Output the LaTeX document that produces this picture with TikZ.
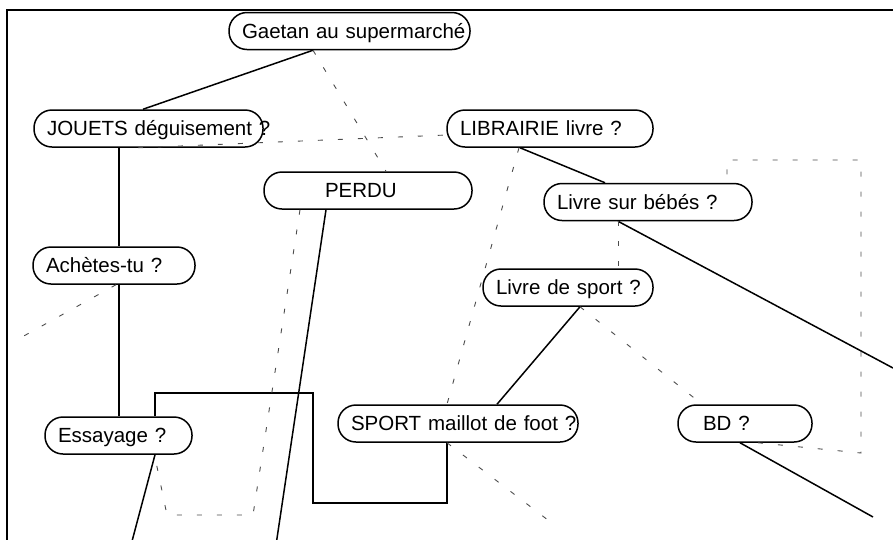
\documentclass[tikz,border=0pt]{standalone}
\usepackage{fontspec}
\setmainfont{Liberation Sans}
\usetikzlibrary{calc}

\tikzset{
  bulle/.style={draw, line width=1.5pt, rounded corners=18pt, minimum height=37pt,
    inner xsep=13pt, inner ysep=0pt, align=left, text width=#1,
    text height=14.7pt, text depth=0pt, font=\fontsize{20.5}{24}\selectfont},
  lien/.style={line width=1.5pt},
  pointille/.style={black!70, line width=0.9pt, dash pattern=on 5pt off 15pt},
}

\begin{document}
\begin{tikzpicture}[x=1pt,y=-1pt]
\useasboundingbox (0,0) rectangle (893,539);
\clip (0,0) rectangle (893,539);
\draw [line width=2pt] (7,545) -- (7,10) -- (900,10);

% les bulles
\node [bulle=215pt] (gaetan) at (349.5,31) {\mbox{Gaetan au supermarché}};
\node [bulle=203pt] (jouets) at (148.5,128.5) {\mbox{JOUETS déguisement ?}};
\node [bulle=180pt] (librairie) at (550,128.5) {LIBRAIRIE livre ?};
\node [bulle=182pt] (perdu) at (368,190.5) {\hspace*{48pt}PERDU};
\node [bulle=182pt] (bebes) at (648,202) {Livre sur bébés ?};
\node [bulle=136pt] (achetes) at (114,265.5) {Achètes-tu ?};
\node [bulle=144pt] (sport) at (568,287.5) {\mbox{Livre de sport ?}};
\node [bulle=214pt] (maillot) at (458,423.5) {\mbox{SPORT maillot de foot ?}};
\node [bulle=108pt] (bd) at (745,423.5) {\hspace*{12pt}BD ?};
\node [bulle=121pt] (essayage) at (118.5,435.5) {Essayage ?};

% bouts libres
\coordinate (finessai) at (131,545);
\coordinate (finperdu) at (276,545);
\coordinate (finbebes) at (893,368);
\coordinate (finbd) at (873,517);
\coordinate (finmaillot) at (557,527);
\coordinate (finachetes) at (13,342);

% traits pleins
\draw [lien] ($(gaetan.south)+(-36.5,0)$) -- ($(jouets.north)+(-5.5,0)$);
\draw [lien] ($(jouets.south)+(-29.5,0)$) -- ($(achetes.north)+(5,0)$);
\draw [lien] ($(achetes.south)+(5,0)$) -- ($(essayage.north)+(0.5,0)$);
\draw [lien] ($(essayage.south)+(36.5,0)$) -- (finessai);
\draw [lien] ($(perdu.south)+(-42,0)$) -- (finperdu);
\draw [lien] ($(librairie.south)+(-30,0)$) -- ($(bebes.north)+(-43,0)$);
\draw [lien] ($(bebes.south)+(-30,0)$) -- (finbebes);
\draw [lien] ($(sport.south)+(12,0)$) -- ($(maillot.north)+(39,0)$);
\draw [lien] ($(bd.south)+(-5,0)$) -- (finbd);
\draw [lien] ($(essayage.north)+(36.5,0)$) -- (155,393) -- (313,393) -- (313,503)
  -- (447,503) -- ($(maillot.south)+(-11,0)$);

% pointilles
\draw [pointille] ($(gaetan.south)+(-36.5,0)$) -- ($(perdu.north)+(18,0)$);
\draw [pointille] ($(jouets.south)+(-10.5,0)$) -- ($(librairie.west)+(0,6.5)$);
\draw [pointille] ($(achetes.south)+(2,0)$) -- (finachetes);
\draw [pointille] ($(perdu.south)+(-68,0)$) -- (253,515) -- (167,515)
  -- ($(essayage.south)+(36,0)$);
\draw [pointille] ($(librairie.south)+(-31,0)$) -- ($(maillot.north)+(-11,0)$);
\draw [pointille] ($(bebes.south)+(-30,0)$) -- ($(sport.north)+(50,0)$);
\draw [pointille] ($(sport.south)+(12,0)$) -- ($(bd.north)+(-43,0)$);
\draw [pointille] ($(maillot.south)+(-11,0)$) -- (finmaillot);
\draw [pointille] ($(bd.south)+(13,0)$) -- (861,453) -- (861,160) -- (727,160)
  -- ($(bebes.north)+(79,0)$);
\end{tikzpicture}
\end{document}
